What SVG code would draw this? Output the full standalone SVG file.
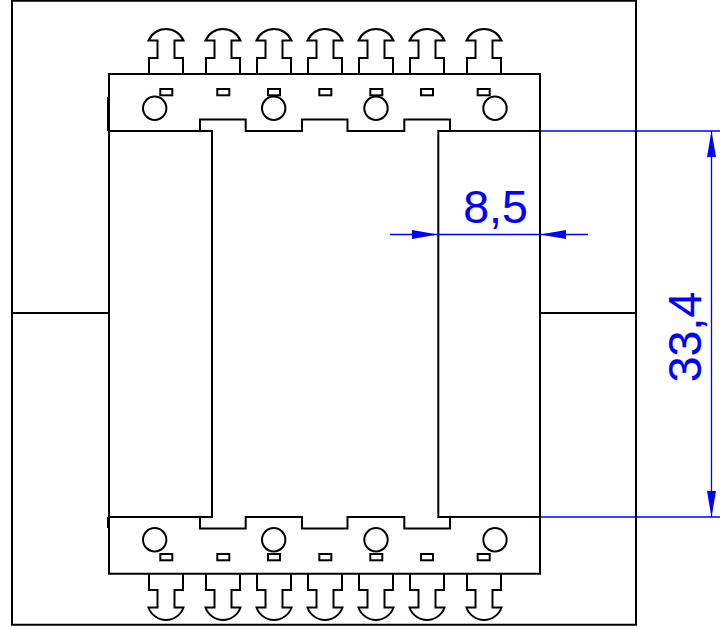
<svg xmlns="http://www.w3.org/2000/svg" xmlns:xlink="http://www.w3.org/1999/xlink" width="722" height="629" viewBox="0 0 722 629">
<style>
.k{fill:none;stroke:#000;stroke-width:2}
.b{fill:none;stroke:#00f;stroke-width:1.300}
.h{fill:#00f;stroke:none}
.t{fill:#00f;stroke:#00f;stroke-width:.2;font-family:"Liberation Sans",Arial,sans-serif;font-size:46.500px;text-anchor:middle}
</style>
<defs>
<path id="pin" class="k" d="M0 0V-16H8.500V-33.500H-.5A19 19 0 0 1 34.500-33.500H25.500V-16H34V0"/>
<path id="pinb" class="k" d="M0 0V16H8.500V33.500H-.5A18.500 18.500 0 0 0 34.500 33.500H25.500V16H34V0"/>
<rect id="slot" class="k" x="0" y="0" width="12" height="6.300"/>
<circle id="hole" class="k" r="11.700"/>
</defs>
<rect width="722" height="629" fill="#fff"/>
<g id="frame"><path class="k" d="M12 .8H636V624.800H12Z"/><path class="k" d="M12 313H109M540 313H636"/></g>
<g id="top-block">
<path class="k" d="M109 131V74H540V131H450V119.500H404.300V131H347.500V119.500H302V131H245.700V119.500H200V131Z"/>
<path class="k" d="M108 97V131"/>
<use xlink:href="#pin" href="#pin" x="149" y="74"/><use xlink:href="#pin" href="#pin" x="206" y="74"/><use xlink:href="#pin" href="#pin" x="257" y="74"/><use xlink:href="#pin" href="#pin" x="308" y="74"/><use xlink:href="#pin" href="#pin" x="359" y="74"/><use xlink:href="#pin" href="#pin" x="410" y="74"/><use xlink:href="#pin" href="#pin" x="467" y="74"/>
<use xlink:href="#slot" href="#slot" x="160.300" y="89"/><use xlink:href="#slot" href="#slot" x="217.300" y="89"/><use xlink:href="#slot" href="#slot" x="268" y="89"/><use xlink:href="#slot" href="#slot" x="319.300" y="89"/><use xlink:href="#slot" href="#slot" x="370.300" y="89"/><use xlink:href="#slot" href="#slot" x="421" y="89"/><use xlink:href="#slot" href="#slot" x="477.700" y="89"/>
<use xlink:href="#hole" href="#hole" x="154.700" y="108.300"/><use xlink:href="#hole" href="#hole" x="273.700" y="108.300"/><use xlink:href="#hole" href="#hole" x="376" y="108.300"/><use xlink:href="#hole" href="#hole" x="495" y="108.300"/>
</g>
<g id="bottom-block">
<path class="k" d="M109 517V573.800H540V517H450V528.500H404.300V517H347.500V528.500H302V517H245.700V528.500H200V517Z"/>
<path class="k" d="M108 517V528"/>
<use xlink:href="#pinb" href="#pinb" x="149" y="574"/><use xlink:href="#pinb" href="#pinb" x="206" y="574"/><use xlink:href="#pinb" href="#pinb" x="257" y="574"/><use xlink:href="#pinb" href="#pinb" x="308" y="574"/><use xlink:href="#pinb" href="#pinb" x="359" y="574"/><use xlink:href="#pinb" href="#pinb" x="410" y="574"/><use xlink:href="#pinb" href="#pinb" x="467" y="574"/>
<use xlink:href="#slot" href="#slot" x="160.300" y="554"/><use xlink:href="#slot" href="#slot" x="217.300" y="554"/><use xlink:href="#slot" href="#slot" x="268" y="554"/><use xlink:href="#slot" href="#slot" x="319.300" y="554"/><use xlink:href="#slot" href="#slot" x="370.300" y="554"/><use xlink:href="#slot" href="#slot" x="421" y="554"/><use xlink:href="#slot" href="#slot" x="477.700" y="554"/>
<use xlink:href="#hole" href="#hole" x="154.700" y="539.700"/><use xlink:href="#hole" href="#hole" x="273.700" y="539.700"/><use xlink:href="#hole" href="#hole" x="376" y="539.700"/><use xlink:href="#hole" href="#hole" x="495" y="539.700"/>
</g>
<g id="body">
<path class="k" d="M109 131V517H212V131Z"/>
<path class="k" d="M450 131H438.300V517H450"/>
<path class="k" d="M540 131V517"/>
</g>
<g id="connectors">
<path class="b" d="M541 131H720M541 517H720M711.500 131V517M390 234.500H588"/>
<path class="b" style="stroke-width:.8" d="M450 131.500H540M450 517.500H540"/>
<path class="h" d="M711.500 131L716 157H707ZM711.500 517L716 491H707ZM438 234.500L412 230V239ZM540 234.500L566 230V239Z"/>
</g>
<g id="labels">
<text class="t" x="495.500" y="223">8,5</text>
<text class="t" transform="translate(701 337) rotate(-90)">33,4</text>
</g>
</svg>
